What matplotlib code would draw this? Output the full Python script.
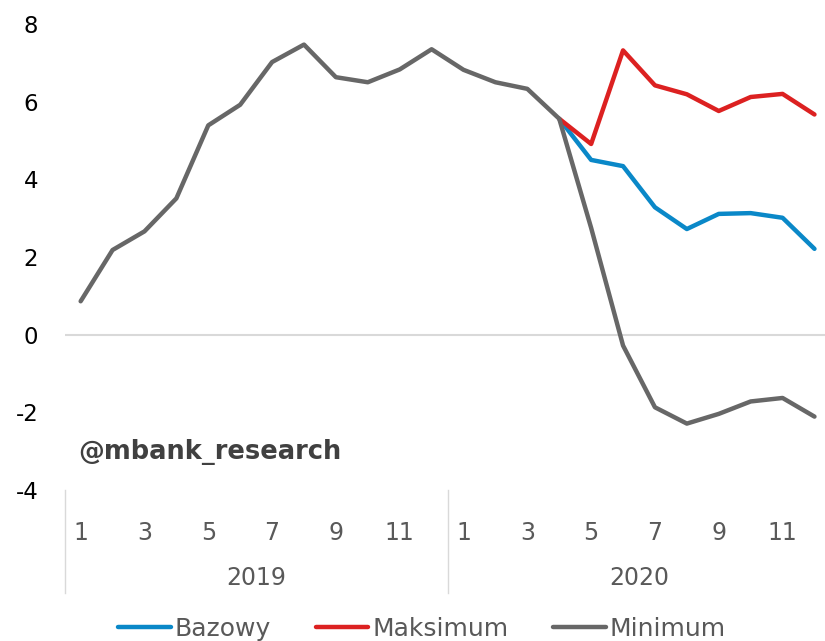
import matplotlib
matplotlib.use("Agg")
import matplotlib.pyplot as plt
import matplotlib.transforms as mtransforms
import numpy as np

# monthly data, 2019-01 .. 2020-12
years = ["2019", "2020"]
months = list(range(1, 13))

minimum = [0.86, 2.18, 2.66, 3.51, 5.39, 5.92, 7.02, 7.47, 6.63, 6.50, 6.83, 7.35,
           6.82, 6.50, 6.33, 5.56, 2.75, -0.28, -1.87, -2.29, -2.04, -1.72, -1.63, -2.11]
bazowy = [None] * 15 + [5.56, 4.50, 4.34, 3.28, 2.72, 3.11, 3.13, 3.01, 2.21]
maksimum = [None] * 15 + [5.56, 4.91, 7.32, 6.42, 6.19, 5.76, 6.12, 6.20, 5.67]

series_names = ["Bazowy", "Maksimum", "Minimum"]
colors = ["#0a88c8", "#dc2121", "#676767"]

y_ticks = [-4, -2, 0, 2, 4, 6, 8]

label_font = ["Liberation Sans Narrow", "DejaVu Sans Condensed", "DejaVu Sans"]
grey_txt = "#595959"

fig = plt.figure(figsize=(8.25, 6.41), dpi=100)
ax = fig.add_axes([64.7 / 825, 151 / 641, 1 - 64.7 / 825, (490 - 24) / 641])

x = np.arange(len(minimum))
to_arr = lambda s: np.array([np.nan if v is None else v for v in s], dtype=float)

ax.axhline(0, color="#d9d9d9", lw=1.5, zorder=1)
for name, data, c in zip(series_names, [bazowy, maksimum, minimum], colors):
    ax.plot(x, to_arr(data), color=c, lw=3.2, label=name, zorder=3,
            solid_capstyle="round", solid_joinstyle="round")

ax.set_xlim(-0.5, 23.33)
ax.set_ylim(-4, 8)
ax.set_yticks(y_ticks)
ax.set_yticklabels([str(t) for t in y_ticks], fontsize=16.5, color="black",
                   family=["DejaVu Sans"])
ax.tick_params(axis="y", length=0, pad=19)

# category axis: odd months per year
tick_pos = [i for i in x if i % 2 == 0]
ax.set_xticks(tick_pos)
ax.set_xticklabels([str(months[i % 12]) for i in tick_pos], fontsize=17,
                   color=grey_txt, family=label_font)
ax.tick_params(axis="x", length=0, pad=22)

for s in ax.spines.values():
    s.set_visible(False)

trans = mtransforms.blended_transform_factory(ax.transData, fig.transFigure)
for xb in [-0.5, 11.5, 23.5]:
    ax.plot([xb, xb], [1 - 490 / 641, 1 - 593 / 641], color="#d9d9d9", lw=1,
            transform=trans, clip_on=False)
for k, yr in enumerate(years):
    ax.text(k * 12 + 5.5, 1 - 578 / 641, yr, transform=trans, ha="center",
            va="center", fontsize=17, color=grey_txt, family=label_font)

fig.text(78 / 825, 1 - 452 / 641, "@mbank_research", fontsize=18.5,
         fontweight="bold", color="#404040", va="center", ha="left",
         family=["DejaVu Sans"])

fig.legend(loc="center", bbox_to_anchor=(422 / 825, 1 - 629 / 641), ncol=3,
           frameon=False, handlelength=2.1, handletextpad=0.15, columnspacing=1.8,
           prop={"family": label_font, "size": 18}, labelcolor=grey_txt)

fig.savefig("out.png", dpi=100)
